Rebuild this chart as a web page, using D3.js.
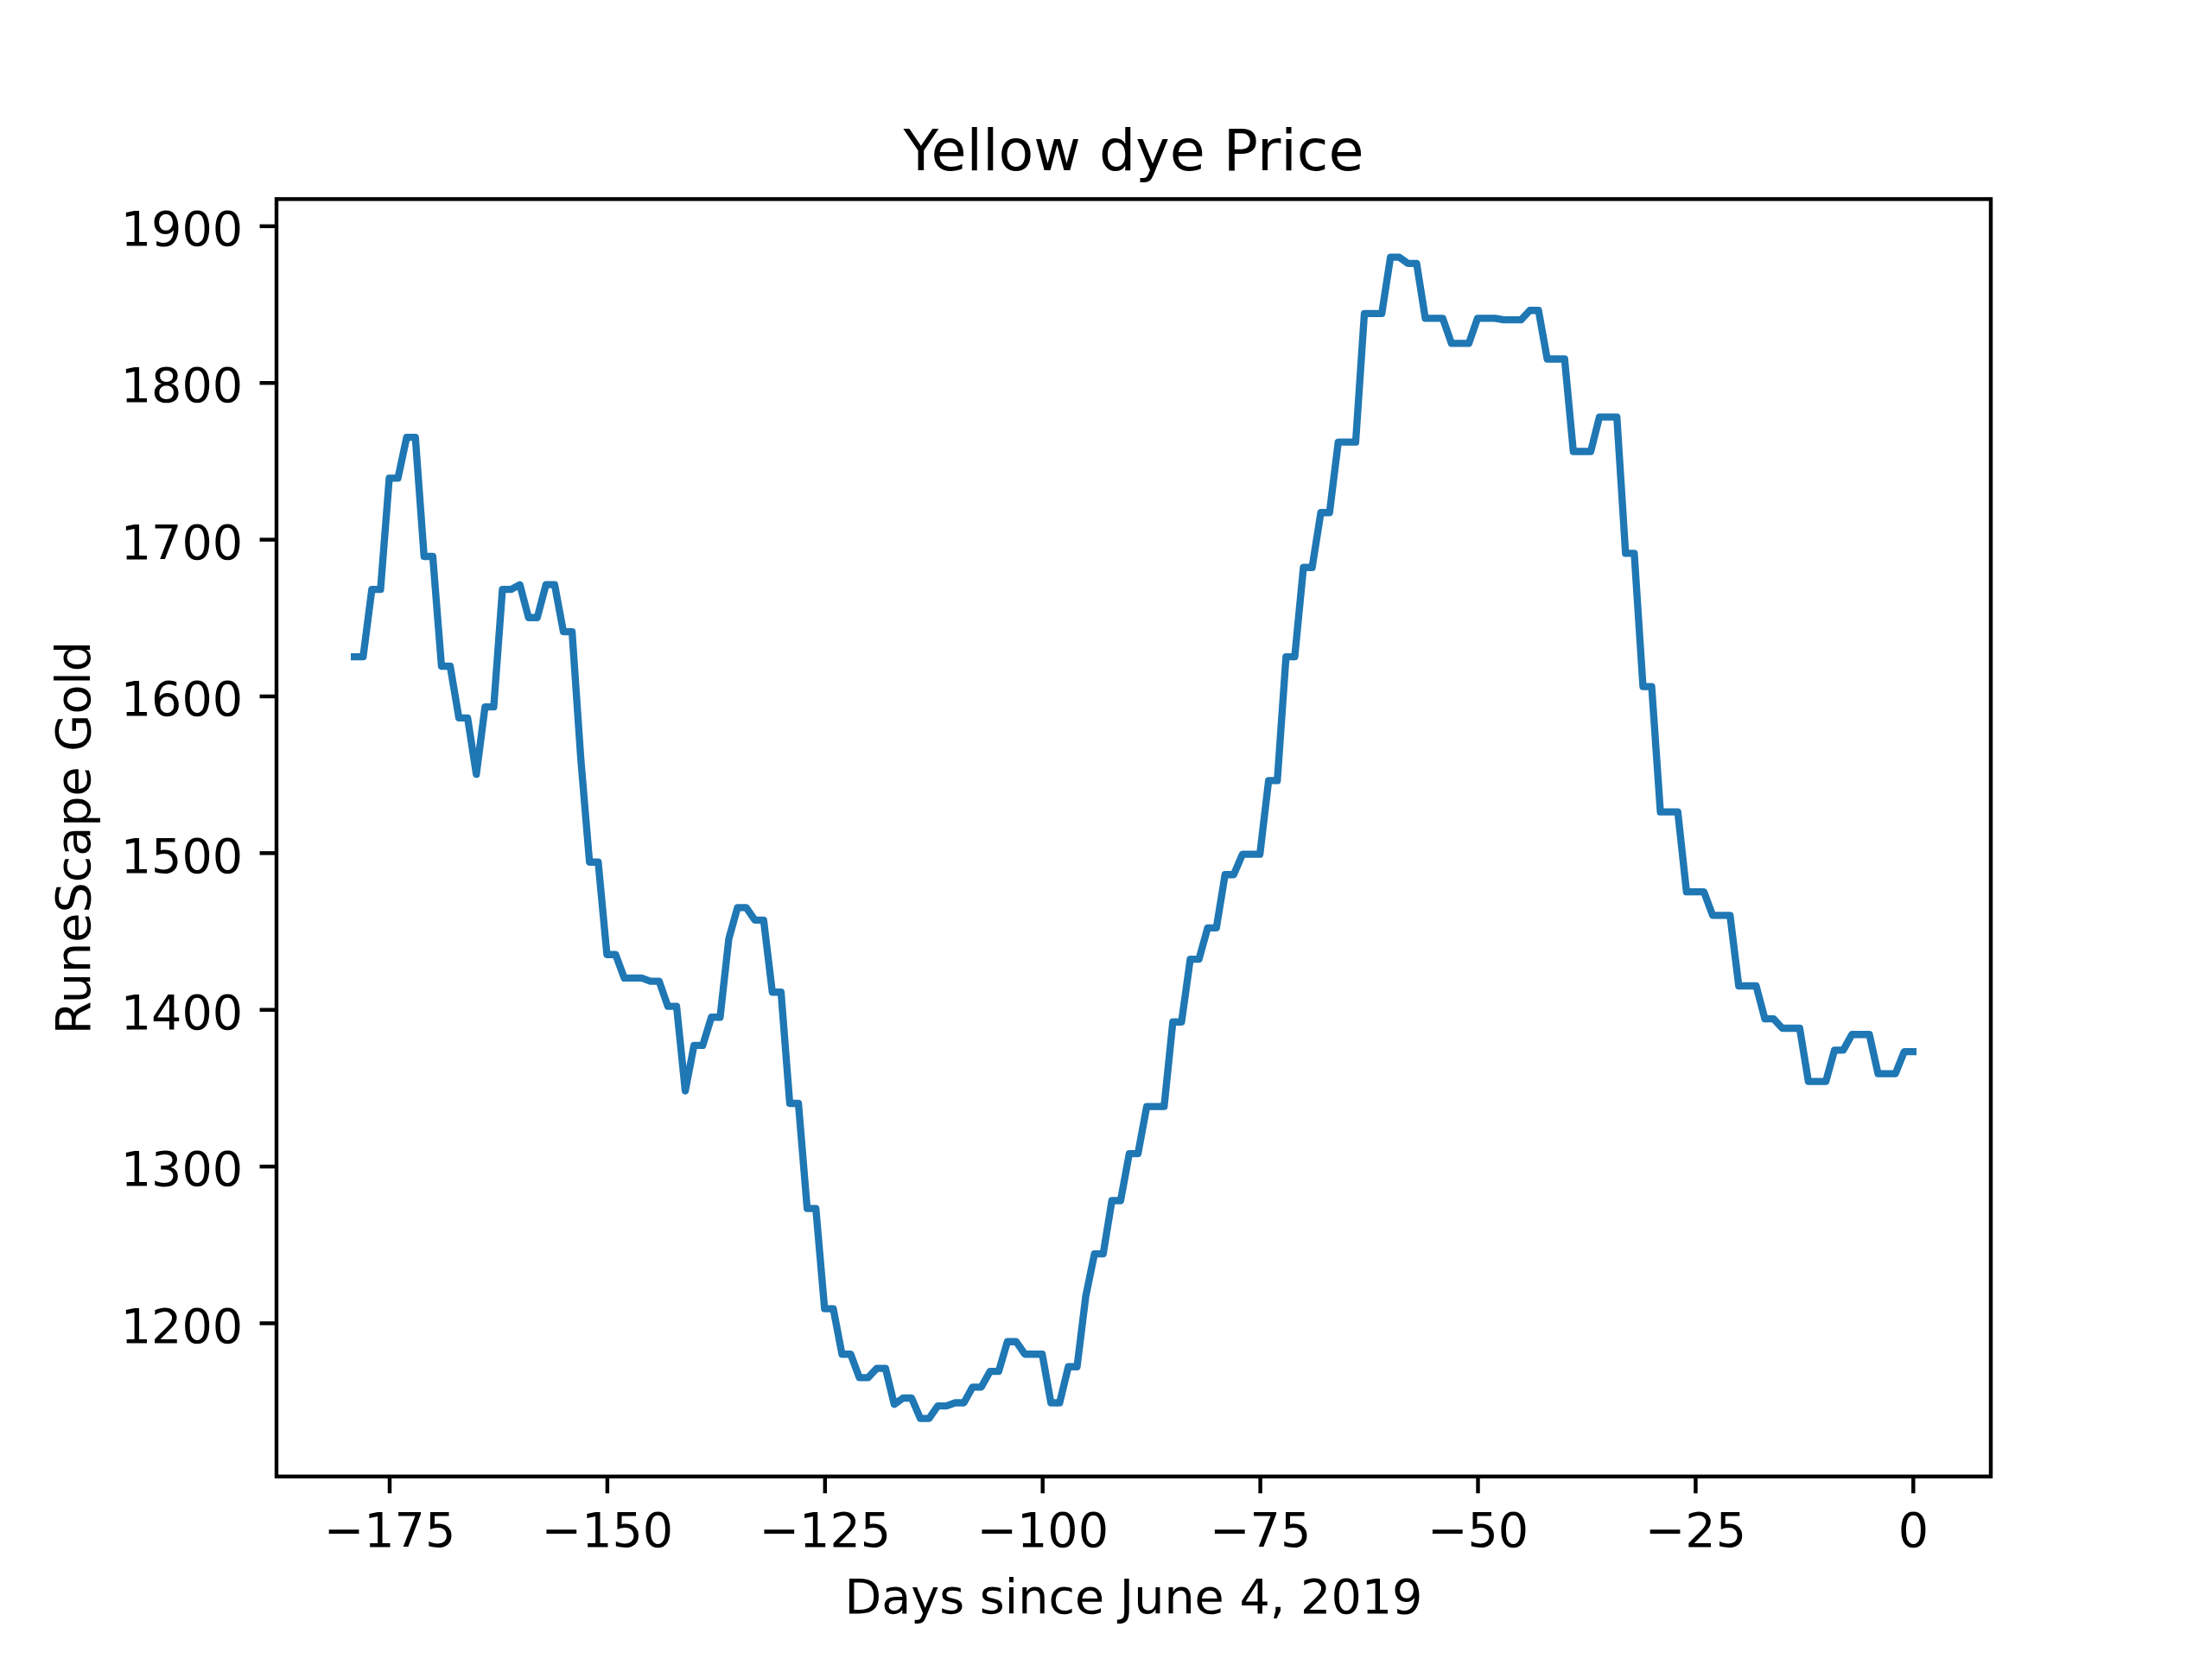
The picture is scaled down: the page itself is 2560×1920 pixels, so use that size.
<!DOCTYPE html>
<html>
<head>
<meta charset="utf-8">
<script src="https://d3js.org/d3.v7.min.js"></script>
<style>
  body { margin: 0; background: #fff; }
  text { font-family: "DejaVu Sans", sans-serif; fill: #000; }
</style>
</head>
<body>
<svg id="chart" width="2560" height="1920"></svg>
<script>
// price per day, first entry is day -179, last is day 0
var firstDay = -179;
var prices = [
  1625, 1625, 1668, 1668, 1739, 1739, 1765, 1765, 1689, 1689,
  1619, 1619, 1586, 1586, 1550, 1593, 1593, 1668, 1668, 1671,
  1650, 1650, 1671, 1671, 1641, 1641, 1560, 1494, 1494, 1435,
  1435, 1420, 1420, 1420, 1418, 1418, 1402, 1402, 1348, 1377,
  1377, 1395, 1395, 1445, 1465, 1465, 1457, 1457, 1411, 1411,
  1340, 1340, 1273, 1273, 1209, 1209, 1180, 1180, 1165, 1165,
  1171, 1171, 1148, 1152, 1152, 1139, 1139, 1147, 1147, 1149,
  1149, 1159, 1159, 1169, 1169, 1188, 1188, 1180, 1180, 1180,
  1149, 1149, 1172, 1172, 1217, 1244, 1244, 1278, 1278, 1308,
  1308, 1338, 1338, 1338, 1392, 1392, 1432, 1432, 1452, 1452,
  1486, 1486, 1499, 1499, 1499, 1546, 1546, 1625, 1625, 1682,
  1682, 1717, 1717, 1762, 1762, 1762, 1844, 1844, 1844, 1880,
  1880, 1876, 1876, 1841, 1841, 1841, 1825, 1825, 1825, 1841,
  1841, 1841, 1840, 1840, 1840, 1846, 1846, 1815, 1815, 1815,
  1756, 1756, 1756, 1778, 1778, 1778, 1691, 1691, 1606, 1606,
  1526, 1526, 1526, 1475, 1475, 1475, 1460, 1460, 1460, 1415,
  1415, 1415, 1394, 1394, 1388, 1388, 1388, 1354, 1354, 1354,
  1374, 1374, 1384, 1384, 1384, 1359, 1359, 1359, 1373, 1373
];
var xTicks = [-175, -150, -125, -100, -75, -50, -25, 0];
var yTicks = [1200, 1300, 1400, 1500, 1600, 1700, 1800, 1900];

var title = "Yellow dye Price";
var xLabel = "Days since June 4, 2019";
var yLabel = "RuneScape Gold";

var data = prices.map(function(p, i) { return { day: firstDay + i, price: p }; });

// figure is 6.4x4.8in at 400dpi, so 1pt = 400/72 px
var pt = 400 / 72;
var axLeft = 320, axRight = 2304, axTop = 230.4, axBottom = 1708.8;

// matplotlib style 5% margins
function padded(ext) {
  var m = (ext[1] - ext[0]) * 0.05;
  return [ext[0] - m, ext[1] + m];
}

var x = d3.scaleLinear()
  .domain(padded(d3.extent(data, function(d) { return d.day; })))
  .range([axLeft, axRight]);
var y = d3.scaleLinear()
  .domain(padded(d3.extent(data, function(d) { return d.price; })))
  .range([axBottom, axTop]);

function fmt(v) { return v < 0 ? "\u2212" + Math.abs(v) : String(v); }

var svg = d3.select("#chart");

// the line
var line = d3.line()
  .x(function(d) { return x(d.day); })
  .y(function(d) { return y(d.price); });

svg.append("path")
  .datum(data)
  .attr("d", line)
  .attr("fill", "none")
  .attr("stroke", "#1f77b4")
  .attr("stroke-width", 1.5 * pt)
  .attr("stroke-linejoin", "round")
  .attr("stroke-linecap", "square");

// axes
var xAxis = svg.append("g")
  .attr("transform", "translate(0," + axBottom + ")")
  .call(d3.axisBottom(x).tickValues(xTicks).tickFormat(fmt)
    .tickSize(3.5 * pt).tickPadding(3.5 * pt).tickSizeOuter(0));
xAxis.select(".domain").remove();
xAxis.selectAll(".tick line").attr("stroke", "#000").attr("stroke-width", 0.8 * pt);
xAxis.selectAll(".tick text")
  .attr("font-size", 10 * pt)
  .attr("y", 81)
  .attr("dy", 0);

var yAxis = svg.append("g")
  .attr("transform", "translate(" + axLeft + ",0)")
  .call(d3.axisLeft(y).tickValues(yTicks).tickFormat(fmt)
    .tickSize(3.5 * pt).tickPadding(3.5 * pt).tickSizeOuter(0));
yAxis.select(".domain").remove();
yAxis.selectAll(".tick line").attr("stroke", "#000").attr("stroke-width", 0.8 * pt);
yAxis.selectAll(".tick text")
  .attr("font-size", 10 * pt)
  .attr("dy", "0.40em");

// spines
svg.append("rect")
  .attr("x", axLeft).attr("y", axTop)
  .attr("width", axRight - axLeft).attr("height", axBottom - axTop)
  .attr("fill", "none")
  .attr("stroke", "#000")
  .attr("stroke-width", 0.8 * pt)
  .attr("stroke-linejoin", "miter");

// labels
svg.append("text")
  .attr("x", (axLeft + axRight) / 2).attr("y", 197)
  .attr("text-anchor", "middle")
  .attr("font-size", 12 * pt)
  .text(title);

svg.append("text")
  .attr("x", (axLeft + axRight) / 2).attr("y", 1867)
  .attr("text-anchor", "middle")
  .attr("font-size", 10 * pt)
  .text(xLabel);

svg.append("text")
  .attr("transform", "translate(104," + (axTop + axBottom) / 2 + ") rotate(-90)")
  .attr("text-anchor", "middle")
  .attr("font-size", 10 * pt)
  .text(yLabel);
</script>
</body>
</html>
